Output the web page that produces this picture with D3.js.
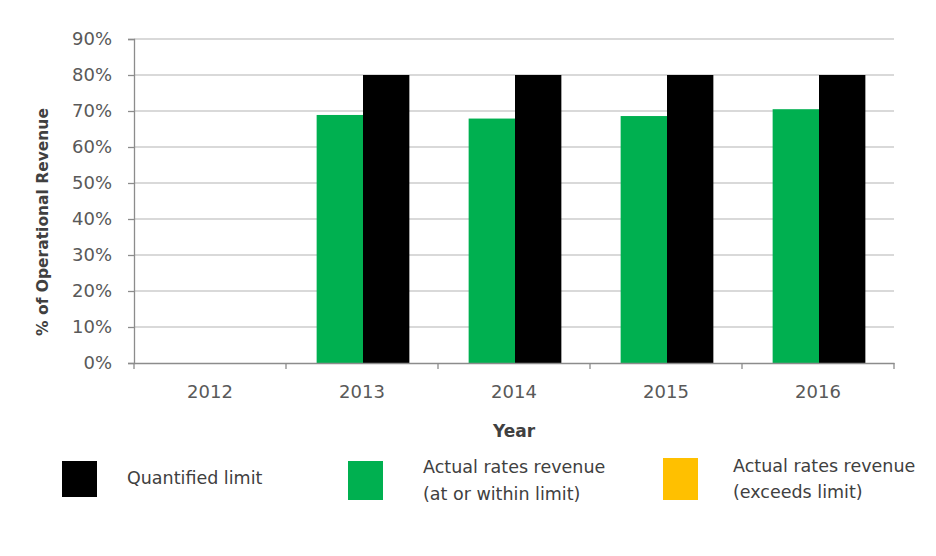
<!DOCTYPE html>
<html>
<head>
<meta charset="utf-8">
<script src="https://cdn.jsdelivr.net/npm/d3@7/dist/d3.min.js"></script>
<style>
  html, body { margin: 0; padding: 0; background: #fff; }
  svg { display: block; }
  text { font-family: "DejaVu Sans", sans-serif; }
</style>
</head>
<body>
<svg id="chart" width="936" height="556"></svg>
<script>
const years = ["2012", "2013", "2014", "2015", "2016"];
const actualRevenue = [null, 68.9, 67.9, 68.6, 70.5];
const quantifiedLimit = [null, 80, 80, 80, 80];
const yTicks = [0, 10, 20, 30, 40, 50, 60, 70, 80, 90];
const seriesNames = ["actual", "limit"];
const legendItems = [
  { label: ["Quantified limit"], color: "#000000" },
  { label: ["Actual rates revenue", "(at or within limit)"], color: "#00B050" },
  { label: ["Actual rates revenue", "(exceeds limit)"], color: "#FFC000" }
];

(function () {
const svg = d3.select("#chart");
const plotLeft = 134, plotRight = 894, plotTop = 39, plotBottom = 363;

const x = d3.scaleBand().domain(years).range([plotLeft, plotRight]).padding(0);
const x1 = d3.scaleBand().domain(seriesNames)
  .range([x.bandwidth() * 0.195, x.bandwidth() * 0.805]).padding(0);
const y = d3.scaleLinear().domain([0, 90]).range([plotBottom, plotTop]);

// gridlines
svg.append("g").selectAll("line").data(yTicks.filter(d => d > 0)).join("line")
  .attr("x1", plotLeft).attr("x2", plotRight)
  .attr("y1", d => y(d)).attr("y2", d => y(d))
  .attr("stroke", "#b3b3b3").attr("stroke-width", 1.2);

// bars
const colors = { actual: "#00B050", limit: "#000000" };
const rows = years.map((yr, i) => ({ yr, actual: actualRevenue[i], limit: quantifiedLimit[i] }));
const groups = svg.append("g").selectAll("g").data(rows).join("g")
  .attr("transform", d => `translate(${x(d.yr) + 1},0)`);
groups.selectAll("rect")
  .data(d => seriesNames.filter(k => d[k] != null).map(k => ({ k, v: d[k] })))
  .join("rect")
  .attr("x", d => x1(d.k))
  .attr("width", x1.bandwidth())
  .attr("y", d => y(d.v))
  .attr("height", d => y(0) - y(d.v))
  .attr("fill", d => colors[d.k]);

// y axis
const yAxis = d3.axisLeft(y).tickValues(yTicks).tickSize(6).tickPadding(16)
  .tickFormat(d => d + "%");
const gy = svg.append("g").attr("transform", `translate(${plotLeft},0)`).call(yAxis);
gy.select(".domain").attr("stroke", "#8c8c8c").attr("stroke-width", 1.3);
gy.selectAll(".tick line").attr("stroke", "#8c8c8c").attr("stroke-width", 1.3);
gy.selectAll(".tick text").attr("font-size", 18).attr("fill", "#595959")
  .attr("font-family", "DejaVu Sans, sans-serif");

// x axis
const xAxis = d3.axisBottom(x).tickSize(0).tickPadding(22);
const gx = svg.append("g").attr("transform", `translate(0,${plotBottom})`).call(xAxis);
gx.select(".domain").attr("stroke", "#8c8c8c").attr("stroke-width", 1.3);
gx.selectAll(".tick text").attr("font-size", 18).attr("fill", "#595959")
  .attr("font-family", "DejaVu Sans, sans-serif");
const bounds = years.map(d => x(d)).concat([x(years[years.length - 1]) + x.bandwidth()]);
gx.append("g").selectAll("line").data(bounds).join("line")
  .attr("x1", d => d).attr("x2", d => d).attr("y1", 0).attr("y2", 6)
  .attr("stroke", "#8c8c8c").attr("stroke-width", 1.3);

// axis titles
svg.append("text")
  .attr("transform", `translate(48,${(plotTop + plotBottom) / 2 + 21}) rotate(-90)`)
  .attr("text-anchor", "middle")
  .attr("font-size", 15.5).attr("font-weight", "bold").attr("fill", "#404040")
  .text("% of Operational Revenue");
svg.append("text")
  .attr("x", (plotLeft + plotRight) / 2).attr("y", 437)
  .attr("text-anchor", "middle")
  .attr("font-size", 17).attr("font-weight", "bold").attr("fill", "#404040")
  .text("Year");

// legend
const legendPos = [
  { sx: 62, sy: 461, sh: 36, tx: 127, ty: [484] },
  { sx: 348, sy: 461, sh: 39, tx: 423, ty: [473, 500] },
  { sx: 663, sy: 458, sh: 42, tx: 733, ty: [472, 498] }
];
const lg = svg.append("g").selectAll("g").data(legendItems).join("g");
lg.append("rect")
  .attr("x", (d, i) => legendPos[i].sx).attr("y", (d, i) => legendPos[i].sy)
  .attr("width", 35).attr("height", (d, i) => legendPos[i].sh)
  .attr("fill", d => d.color);
lg.each(function (d, i) {
  d3.select(this).selectAll("text.lab").data(d.label).join("text")
    .attr("class", "lab")
    .attr("x", legendPos[i].tx)
    .attr("y", (t, j) => legendPos[i].ty[j])
    .attr("font-size", 17.5).attr("fill", "#404040")
    .text(t => t);
});
})();
</script>
</body>
</html>
